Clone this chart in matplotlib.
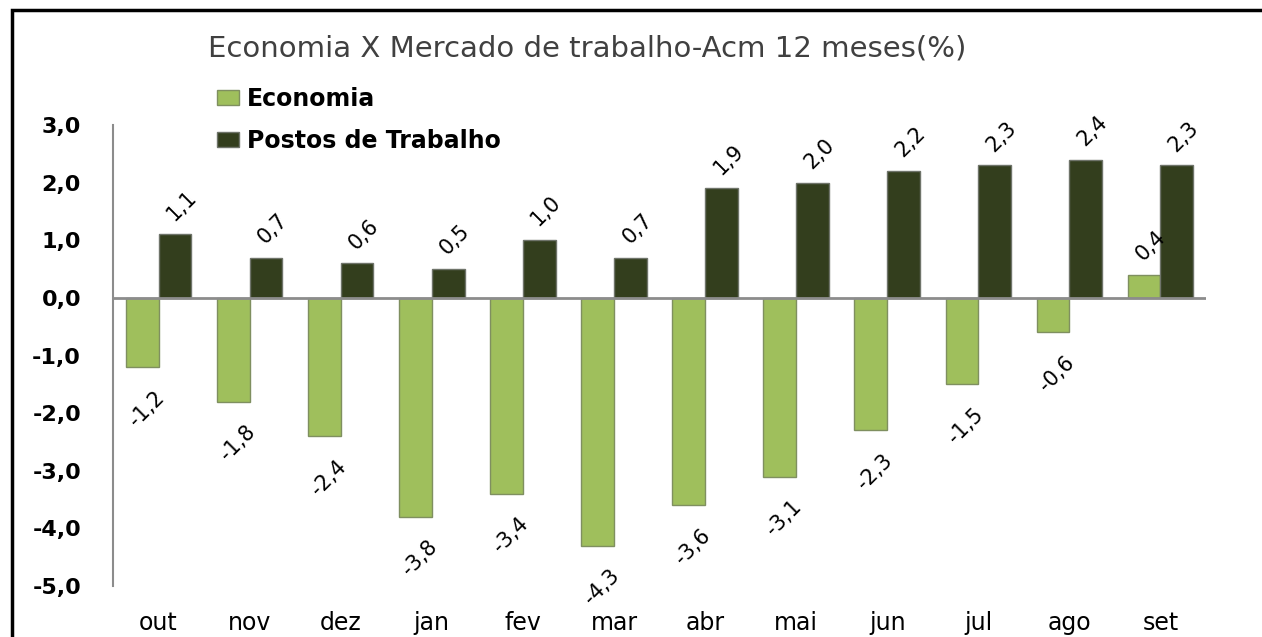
import numpy as np
import matplotlib.pyplot as plt
from matplotlib.patches import Rectangle

# data
meses = ['out', 'nov', 'dez', 'jan', 'fev', 'mar', 'abr', 'mai', 'jun', 'jul', 'ago', 'set']
economia = [-1.2, -1.8, -2.4, -3.8, -3.4, -4.3, -3.6, -3.1, -2.3, -1.5, -0.6, 0.4]
postos = [1.1, 0.7, 0.6, 0.5, 1.0, 0.7, 1.9, 2.0, 2.2, 2.3, 2.4, 2.3]
yticks = [3, 2, 1, 0, -1, -2, -3, -4, -5]

plt.rcParams['font.family'] = 'DejaVu Sans'

W, H = 1262, 637
fig = plt.figure(figsize=(W / 100, H / 100), dpi=100)
ax = fig.add_axes([113 / W, 1 - 586 / H, (1206 - 113) / W, (586 - 125) / H])

x = np.arange(len(meses))
w = 0.36
c_eco = '#9fbf5c'
c_pos = '#333e1d'
b1 = ax.bar(x - w / 2, economia, w, color=c_eco, edgecolor='#7f8f60', linewidth=1, label='Economia', zorder=2)
b2 = ax.bar(x + w / 2, postos, w, color=c_pos, edgecolor='#6f746a', linewidth=1, label='Postos de Trabalho', zorder=2)

# rotated data labels
def fmt(v):
    return ('%.1f' % v).replace('.', ',')

for xs, vals in ((x - w / 2, economia), (x + w / 2, postos)):
    for xi, v in zip(xs, vals):
        off = (5, 21) if v >= 0 else (3, -30)
        ax.annotate(fmt(v), (xi, v), xytext=off, textcoords='offset points',
                    ha='center', va='center', rotation=45, fontsize=15, color='black')

ax.set_xlim(-0.5, len(meses) - 0.5)
ax.set_ylim(-5, 3)
ax.axhline(0, color='#8c8c8c', lw=2, zorder=3)
for s in ['top', 'right', 'bottom']:
    ax.spines[s].set_visible(False)
ax.spines['left'].set_color('#8c8c8c')
ax.spines['left'].set_linewidth(1.5)

ax.set_yticks(yticks)
ax.set_yticklabels([fmt(v) for v in yticks], fontsize=16, fontweight='bold')
ax.set_xticks(x)
ax.set_xticklabels(meses, fontsize=17)
ax.tick_params(axis='y', length=0, pad=23)
ax.tick_params(axis='x', length=0, pad=18)

fig.text(587 / W, 1 - 49 / H, 'Economia X Mercado de trabalho-Acm 12 meses(%)',
         ha='center', va='center', fontsize=21, color='#404040')

ax.legend(handles=[b1, b2], loc='upper left', bbox_to_anchor=(196 / W, 1 - 66 / H),
          bbox_transform=fig.transFigure, frameon=False, handlelength=0.9, handleheight=0.6,
          handletextpad=0.35, labelspacing=0.75, prop={'size': 17, 'weight': 'bold'})

# outer frame (cropped at right and bottom)
fig.add_artist(Rectangle((12 / W, -0.1), 1.2, 1 - 10 / H + 0.1, transform=fig.transFigure,
                         fill=False, edgecolor='black', lw=2.5))

fig.savefig('out.png', dpi=100)
